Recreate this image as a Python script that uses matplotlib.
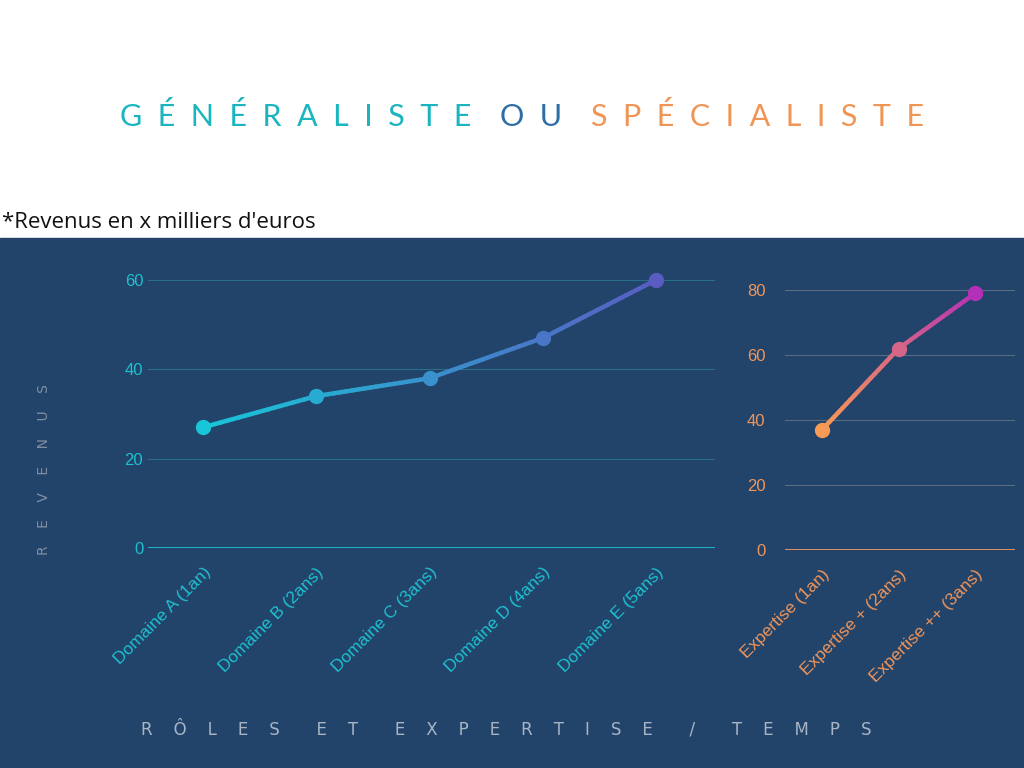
import numpy as np
import matplotlib.pyplot as plt
from matplotlib.patches import Rectangle
from matplotlib.colors import LinearSegmentedColormap

# data
gen_labels = ["Domaine A (1an)", "Domaine B (2ans)", "Domaine C (3ans)",
              "Domaine D (4ans)", "Domaine E (5ans)"]
gen_values = [27, 34, 38, 47, 60]
spe_labels = ["Expertise (1an)", "Expertise + (2ans)", "Expertise ++ (3ans)"]
spe_values = [37, 62, 79]

BG = "#22446a"
TEAL = "#1fbfd0"
ORANGE = "#f0955a"

fig = plt.figure(figsize=(10.24, 7.68), dpi=100)
fig.add_artist(Rectangle((0, 0), 1, (768 - 238) / 768, transform=fig.transFigure,
                         color=BG, zorder=0))


def spaced(word, gap="  "):
    return gap.join(word)


# title
parts = [(spaced("GÉNÉRALISTE"), "#1bb5c0"), (spaced("OU"), "#2e6ea6"),
         (spaced("SPÉCIALISTE"), "#ef9556")]
x = 0.117
for txt, col in parts:
    t = fig.text(x, 1 - 117 / 768, txt, color=col, fontsize=22, va="center",
                 family="Lato")
    fig.canvas.draw()
    bb = t.get_window_extent()
    x += bb.width / 1024 + 0.028
fig.text(0.002, 1 - 222 / 768, "*Revenus en x milliers d'euros", fontsize=16,
         va="center", color="#111111", family="Open Sans")


def gradient_line(ax, xs, ys, c0, c1):
    cmap = LinearSegmentedColormap.from_list("g", [c0, c1])
    n = len(xs) - 1
    for i in range(n):
        xx = np.linspace(xs[i], xs[i + 1], 20)
        yy = np.linspace(ys[i], ys[i + 1], 20)
        for j in range(19):
            f = (i + j / 19) / n
            ax.plot(xx[j:j + 2], yy[j:j + 2], color=cmap(f), lw=3.2,
                    solid_capstyle="round", zorder=3)
    for i in range(n + 1):
        ax.plot(xs[i], ys[i], "o", ms=10, color=cmap(i / n), zorder=4)


def style(ax, col, gridcol, zerocol, labels):
    ax.set_facecolor("none")
    for s in ax.spines.values():
        s.set_visible(False)
    ax.tick_params(length=0, colors=col, labelsize=12)
    ax.set_axisbelow(True)
    ax.yaxis.grid(True, color=gridcol, lw=0.8)
    ax.axhline(0, color=zerocol, lw=1.3, zorder=2.5)
    ax.set_xticks(range(len(labels)))
    ax.set_xticklabels(labels, rotation=45, ha="right", rotation_mode="anchor",
                       color=col, fontsize=12.5, family="Liberation Sans")
    for lab in ax.get_yticklabels():
        lab.set_family("Liberation Sans")
    ax.tick_params(axis="x", pad=12)


ax1 = fig.add_axes([148 / 1024, 220 / 768, 567 / 1024, 277 / 768])
xs = np.arange(len(gen_values))
gradient_line(ax1, xs, gen_values, "#17c6d8", "#5a5cc2")
ax1.set_xlim(-0.485, 4.52)
ax1.set_ylim(0, 62)
ax1.set_yticks([0, 20, 40, 60])
style(ax1, TEAL, "#2a6f8a", TEAL, gen_labels)

ax2 = fig.add_axes([785 / 1024, 218 / 768, 230 / 1024, 273 / 768])
xs2 = np.arange(len(spe_values))
gradient_line(ax2, xs2, spe_values, "#f79a55", "#b530b8")
ax2.set_xlim(-0.484, 2.52)
ax2.set_ylim(0, 84)
ax2.set_yticks([0, 20, 40, 60, 80])
style(ax2, ORANGE, "#5a6a80", ORANGE, spe_labels)
ax2.tick_params(axis="y", pad=14)

fig.text(44 / 1024, 1 - 470 / 768, spaced("REVENUS", "    "), rotation=90,
         color="#7f8ea3", fontsize=10, ha="center", va="center")
fig.text(0.494, 1 - 729 / 768,
         "       ".join(spaced(w, "    ") for w in ["RÔLES", "ET", "EXPERTISE", "/", "TEMPS"]),
         color="#a9b4c4", fontsize=12, ha="center", va="center")

fig.savefig("out.png", dpi=100)
